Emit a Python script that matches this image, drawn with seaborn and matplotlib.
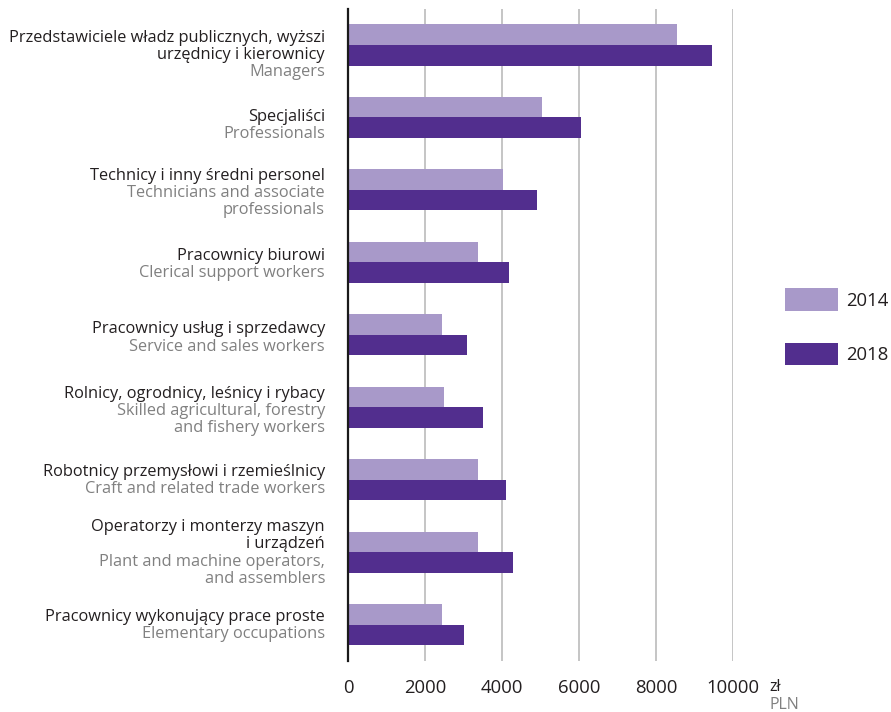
import matplotlib
matplotlib.use("Agg")
import matplotlib.pyplot as plt
import pandas as pd
import seaborn as sns

# occupational groups: Polish name + English name
labels_pl = ["Przedstawiciele władz publicznych, wyższi\nurzędnicy i kierownicy",
             "Specjaliści",
             "Technicy i inny średni personel",
             "Pracownicy biurowi",
             "Pracownicy usług i sprzedawcy",
             "Rolnicy, ogrodnicy, leśnicy i rybacy",
             "Robotnicy przemysłowi i rzemieślnicy",
             "Operatorzy i monterzy maszyn\ni urządzeń",
             "Pracownicy wykonujący prace proste"]
labels_en = ["Managers",
             "Professionals",
             "Technicians and associate\nprofessionals",
             "Clerical support workers",
             "Service and sales workers",
             "Skilled agricultural, forestry\nand fishery workers",
             "Craft and related trade workers",
             "Plant and machine operators,\nand assemblers",
             "Elementary occupations"]

years = ["2014", "2018"]
wages_2014 = [8550, 5040, 4025, 3380, 2440, 2495, 3380, 3380, 2440]
wages_2018 = [9450, 6050, 4910, 4175, 3090, 3500, 4095, 4285, 3005]
xticks = [0, 2000, 4000, 6000, 8000, 10000]

light = "#a899c9"
dark = "#522e8e"
txt_dark = "#231f20"
txt_grey = "#808080"

df = pd.DataFrame({
    "cat": list(range(len(labels_pl))) * 2,
    "value": wages_2014 + wages_2018,
    "year": [years[0]] * len(wages_2014) + [years[1]] * len(wages_2018),
})
df["cat"] = df["cat"].astype(str)

sns.set_style("white")
plt.rcParams["font.family"] = ["Open Sans", "DejaVu Sans"]

fig = plt.figure(figsize=(8.91, 7.12), dpi=100)
ax = fig.add_axes([0.3906, 0.0716, 0.8227 - 0.3906, 0.9877 - 0.0716])

sns.barplot(data=df, y="cat", x="value", hue="year", orient="h",
            palette=[light, dark], width=0.566, gap=0, edgecolor="none",
            saturation=1, ax=ax, legend=True, zorder=3)

ax.set_xlim(0, 10000)
ax.set_ylim(len(labels_pl) - 0.5, -0.5)
ax.set_xticks(xticks)
ax.set_xticklabels([str(t) for t in xticks], fontsize=13.3, color=txt_dark)
ax.tick_params(axis="x", length=0, pad=13)
ax.set_yticks([])
ax.set_xlabel("")
ax.set_ylabel("")
ax.grid(axis="x", color="#b5b5b5", linewidth=1.1, zorder=0)
ax.set_axisbelow(True)
for s in ["top", "right", "bottom"]:
    ax.spines[s].set_visible(False)
ax.spines["left"].set_color("#1a1a1a")
ax.spines["left"].set_linewidth(1.6)
ax.spines["left"].set_zorder(5)

# two-colour category labels, one text per line
line_h = 12.4  # points
nudge = [-7.2, -5.8, -2.2, -1.5, -2.2, -2.5, -0.5, -0.5, -0.5]  # label block shift, points
for i, (pl, en) in enumerate(zip(labels_pl, labels_en)):
    lines = [(t, txt_dark) for t in pl.split("\n")] + [(t, txt_grey) for t in en.split("\n")]
    n = len(lines)
    for k, (t, c) in enumerate(lines):
        dy = ((n - 1) / 2 - k) * line_h + nudge[i]
        ax.annotate(t, xy=(0, i), xycoords=("axes fraction", "data"),
                    xytext=(-16.5, dy), textcoords="offset points",
                    ha="right", va="center", fontsize=11.75, color=c)

# currency unit beside the axis
ax.annotate("zł", xy=(1, 0), xycoords="axes fraction", xytext=(26, -19),
            textcoords="offset points", ha="left", va="center",
            fontsize=11.5, color=txt_dark)
ax.annotate("PLN", xy=(1, 0), xycoords="axes fraction", xytext=(26, -32),
            textcoords="offset points", ha="left", va="center",
            fontsize=11.5, color=txt_grey)

handles, lbls = ax.get_legend_handles_labels()
ax.get_legend().remove()
fig.legend(handles, lbls, loc="center left", bbox_to_anchor=(0.881, 0.5414),
           frameon=False, fontsize=13.3, handlelength=2.86, handleheight=1.46,
           labelspacing=1.73, handletextpad=0.43, borderpad=0, borderaxespad=0,
           labelcolor=txt_dark)

fig.savefig("out.png", dpi=100)
plt.close()
